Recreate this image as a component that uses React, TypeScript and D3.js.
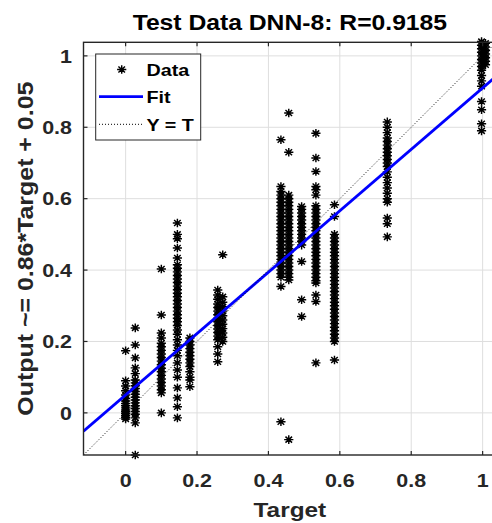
import React from "react";
import * as d3 from "d3";

// ---------- data ----------
const tickValues = [0, 0.2, 0.4, 0.6, 0.8, 1];
const tickLabels = ["0", "0.2", "0.4", "0.6", "0.8", "1"];
const axisLimits = [-0.118, 1.038];
const fitSlope = 0.86;
const fitIntercept = 0.05;
const titleText = "Test Data DNN-8: R=0.9185";
const xLabelText = "Target";
const yLabelText = "Output ~= 0.86*Target + 0.05";
const legendLabels = ["Data", "Fit", "Y = T"];

// clusters of (target, outputs)
const targetsA = 0;
const outputsA = [0.174, 0.09, 0.075, 0.062, 0.05, 0.04, 0.033, 0.026, 0.02, 0.014, 0.008, 0.003, -0.002, -0.007, -0.012, -0.017];
const targetsB = 0.027;
const outputsB = [0.238, 0.19, 0.154, 0.126, 0.11, 0.092, 0.084, 0.076, 0.068, 0.06, 0.052, 0.044, 0.036, 0.028, 0.02, 0.012, 0.004, -0.004, -0.014, -0.028, -0.118];
const targetsC = 0.1;
const outputsC = [0.403, 0.274, 0.224, 0.21, 0.195, 0.185, 0.175, 0.165, 0.155, 0.145, 0.135, 0.125, 0.115, 0.105, 0.095, 0.085, 0.075, 0.065, 0.056, 0.0];
const targetsD = 0.145;
const outputsD = [0.532, 0.5, 0.488, 0.462, 0.434, 0.415, 0.405, 0.395, 0.385, 0.375, 0.365, 0.355, 0.345, 0.335, 0.325, 0.315, 0.305, 0.295, 0.285, 0.275, 0.265, 0.255, 0.245, 0.232, 0.22, 0.205, 0.19, 0.175, 0.16, 0.14, 0.12, 0.1, 0.07, 0.042, 0.017, -0.014];
const targetsE = 0.18;
const outputsE = [0.21, 0.2, 0.19, 0.18, 0.17, 0.16, 0.15, 0.14, 0.13, 0.115, 0.1, 0.092, 0.073];
const targetsF1 = 0.258;
const outputsF1 = [0.344, 0.33, 0.318, 0.305, 0.295, 0.285, 0.275, 0.265, 0.255, 0.245, 0.235, 0.225, 0.215, 0.205, 0.185, 0.165, 0.143];
const targetsF2 = 0.272;
const outputsF2 = [0.443, 0.325, 0.31, 0.297, 0.285, 0.272, 0.26, 0.248, 0.236, 0.224, 0.212, 0.2];
const targetsG1 = 0.435;
const outputsG1 = [0.765, 0.634, 0.62, 0.61, 0.6, 0.59, 0.58, 0.57, 0.56, 0.55, 0.54, 0.53, 0.52, 0.51, 0.5, 0.49, 0.48, 0.47, 0.46, 0.45, 0.44, 0.43, 0.42, 0.41, 0.4, 0.39, 0.38, 0.354, -0.025];
const targetsG2 = 0.457;
const outputsG2 = [0.84, 0.73, 0.61, 0.6, 0.59, 0.58, 0.57, 0.56, 0.55, 0.54, 0.53, 0.52, 0.51, 0.5, 0.49, 0.48, 0.47, 0.46, 0.45, 0.44, 0.43, 0.42, 0.41, 0.4, 0.39, 0.38, 0.372, -0.075];
const targetsH = 0.493;
const outputsH = [0.578, 0.57, 0.56, 0.55, 0.54, 0.53, 0.52, 0.51, 0.5, 0.49, 0.48, 0.47, 0.424, 0.317, 0.27];
const targetsI = 0.533;
const outputsI = [0.783, 0.714, 0.676, 0.634, 0.625, 0.61, 0.58, 0.57, 0.56, 0.55, 0.54, 0.53, 0.52, 0.51, 0.5, 0.49, 0.48, 0.47, 0.46, 0.45, 0.44, 0.43, 0.42, 0.41, 0.4, 0.39, 0.38, 0.37, 0.364, 0.33, 0.312, 0.14];
const targetsJ = 0.585;
const outputsJ = [0.583, 0.55, 0.5, 0.49, 0.48, 0.47, 0.46, 0.45, 0.44, 0.43, 0.42, 0.41, 0.4, 0.39, 0.38, 0.37, 0.36, 0.35, 0.34, 0.33, 0.32, 0.31, 0.3, 0.29, 0.28, 0.27, 0.26, 0.25, 0.24, 0.23, 0.22, 0.21, 0.2, 0.148];
const targetsK = 0.733;
const outputsK = [0.815, 0.8, 0.785, 0.77, 0.76, 0.75, 0.74, 0.73, 0.72, 0.71, 0.7, 0.69, 0.675, 0.66, 0.645, 0.63, 0.615, 0.6, 0.59, 0.546, 0.53, 0.493];
const targetsL1 = 0.997;
const outputsL1 = [1.04, 1.03, 1.02, 1.01, 1.0, 0.99, 0.98, 0.97, 0.96, 0.945, 0.93, 0.915, 0.872, 0.849, 0.81, 0.79];
const targetsL2 = 1.008;
const outputsL2 = [1.035, 1.025, 1.015, 1.005, 0.995, 0.985, 0.975];

const clusterTargets = [targetsA, targetsB, targetsC, targetsD, targetsE, targetsF1, targetsF2, targetsG1, targetsG2, targetsH, targetsI, targetsJ, targetsK, targetsL1, targetsL2];
const clusterOutputs = [outputsA, outputsB, outputsC, outputsD, outputsE, outputsF1, outputsF2, outputsG1, outputsG2, outputsH, outputsI, outputsJ, outputsK, outputsL1, outputsL2];

// ---------- layout ----------
const W = 492;
const H = 523;
const left = 83.5;
const bottom = 455;
const unit = 357;
const SX = 1.16; // horizontal stretch of the glyphs
const FONT = "'Liberation Sans', Arial, Helvetica, sans-serif";
const INK = "#262626";

const STAR = "M-4.6,0H4.6M0,-4.3V4.3M-3.3,-3L3.3,3M-3.3,3L3.3,-3";

function SText({ x, y, size, anchor = "start", rotate = 0, children, fill = INK }: any) {
  return (
    <text
      transform={`translate(${x},${y}) rotate(${rotate}) scale(${SX},1)`}
      fontFamily={FONT}
      fontWeight="bold"
      fontSize={size}
      textAnchor={anchor}
      fill={fill}
    >
      {children}
    </text>
  );
}

export default function App() {
  const span = axisLimits[1] - axisLimits[0];
  const x = d3.scaleLinear().domain(axisLimits).range([left, left + span * unit]);
  const y = d3.scaleLinear().domain(axisLimits).range([bottom, bottom - span * unit]);
  const [x0, x1] = x.range();
  const [y0, y1] = y.range();

  const points: { t: number; o: number }[] = [];
  clusterTargets.forEach((t, i) => clusterOutputs[i].forEach((o) => points.push({ t, o })));

  const line = d3.line<number>().x((d) => x(d)).y((d) => y(fitSlope * d + fitIntercept));
  const idLine = d3.line<number>().x((d) => x(d)).y((d) => y(d));

  return (
    <svg width={W} height={H} style={{ position: "absolute", left: 0, top: 0, background: "#fff" }}>
      <defs>
        <clipPath id="plotclip">
          <rect x={x0} y={y1} width={x1 - x0} height={y0 - y1} />
        </clipPath>
      </defs>
      <rect x={0} y={0} width={W} height={H} fill="#fff" />
      {/* grid */}
      {tickValues.map((v) => (
        <g key={"g" + v}>
          <line x1={x(v)} x2={x(v)} y1={y0} y2={y1} stroke="#dedede" strokeWidth={1} />
          <line x1={x0} x2={x1} y1={y(v)} y2={y(v)} stroke="#dedede" strokeWidth={1} />
        </g>
      ))}
      {/* data */}
      <g stroke="#000" strokeWidth={1.45} fill="none">
        {points.map((p, i) => (
          <path key={i} d={STAR} transform={`translate(${x(p.t)},${y(p.o)})`} />
        ))}
      </g>
      {/* fit & identity */}
      <g clipPath="url(#plotclip)">
        <path d={line(axisLimits) || ""} stroke="#0000ff" strokeWidth={2.8} fill="none" />
        <path d={idLine(axisLimits) || ""} stroke="#000" strokeWidth={1} strokeDasharray="1 2" fill="none" />
      </g>
      {/* axes box */}
      <rect x={x0} y={y1} width={x1 - x0} height={y0 - y1} fill="none" stroke={INK} strokeWidth={1.4} />
      {tickValues.map((v) => (
        <g key={"t" + v} stroke={INK} strokeWidth={1.2}>
          <line x1={x(v)} x2={x(v)} y1={y0} y2={y0 - 4} />
          <line x1={x(v)} x2={x(v)} y1={y1} y2={y1 + 4} />
          <line x1={x0} x2={x0 + 4} y1={y(v)} y2={y(v)} />
          <line x1={x1} x2={x1 - 4} y1={y(v)} y2={y(v)} />
        </g>
      ))}
      {/* tick labels */}
      {tickValues.map((v, i) => (
        <g key={"l" + v}>
          <SText x={x(v)} y={486.5} size={18.5} anchor="middle">{tickLabels[i]}</SText>
          <SText x={72} y={y(v) + 6.7} size={18.5} anchor="end">{tickLabels[i]}</SText>
        </g>
      ))}
      {/* labels */}
      <SText x={(x0 + x1) / 2} y={29.5} size={21.3} anchor="middle" fill="#000">{titleText}</SText>
      <SText x={(x0 + x1) / 2} y={517} size={21} anchor="middle">{xLabelText}</SText>
      <SText x={33} y={(y0 + y1) / 2} size={21.5} anchor="middle" rotate={-90}>{yLabelText}</SText>
      {/* legend */}
      <g>
        <rect x={95.7} y={54} width={105} height={86} fill="#fff" stroke={INK} strokeWidth={1} />
        <path d={STAR} transform="translate(121.7,69.5)" stroke="#000" strokeWidth={1.45} fill="none" />
        <line x1={99} x2={143} y1={96.7} y2={96.7} stroke="#0000ff" strokeWidth={2.8} />
        <line x1={99} x2={143} y1={124.3} y2={124.3} stroke="#000" strokeWidth={1} strokeDasharray="1 2" />
        <SText x={146.5} y={75.8} size={17} fill="#000">{legendLabels[0]}</SText>
        <SText x={146.5} y={103.3} size={17} fill="#000">{legendLabels[1]}</SText>
        <SText x={146.5} y={130.8} size={17} fill="#000">{legendLabels[2]}</SText>
      </g>
    </svg>
  );
}
